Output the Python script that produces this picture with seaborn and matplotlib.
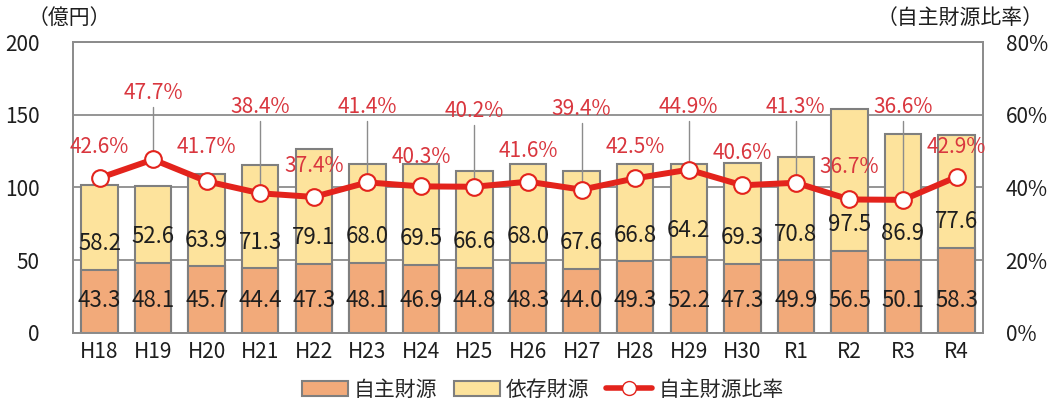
import numpy as np
import pandas as pd
import seaborn as sns
import matplotlib
matplotlib.use("Agg")
import matplotlib.pyplot as plt
from matplotlib.patches import Patch
from matplotlib.lines import Line2D

# データ
years = ['H18', 'H19', 'H20', 'H21', 'H22', 'H23', 'H24', 'H25', 'H26',
         'H27', 'H28', 'H29', 'H30', 'R1', 'R2', 'R3', 'R4']
jishu = [43.3, 48.1, 45.7, 44.4, 47.3, 48.1, 46.9, 44.8, 48.3,
         44.0, 49.3, 52.2, 47.3, 49.9, 56.5, 50.1, 58.3]
izon = [58.2, 52.6, 63.9, 71.3, 79.1, 68.0, 69.5, 66.6, 68.0,
        67.6, 66.8, 64.2, 69.3, 70.8, 97.5, 86.9, 77.6]
ratio = [42.6, 47.7, 41.7, 38.4, 37.4, 41.4, 40.3, 40.2, 41.6,
         39.4, 42.5, 44.9, 40.6, 41.3, 36.7, 36.6, 42.9]
# ラベルの高さ（%）
label_pos = [51.0, 66.0, 51.0, 62.0, 46.0, 62.0, 48.5, 61.0, 50.0,
             61.5, 51.0, 62.0, 49.5, 62.0, 45.7, 62.0, 51.0]

df = pd.DataFrame({'年度': years, '自主財源': jishu, '依存財源': izon, '比率': ratio})
df['合計'] = df['自主財源'] + df['依存財源']

sns.set_style("white")
plt.rcParams['font.family'] = ['Noto Sans CJK JP', 'DejaVu Sans']

orange = '#F2AA7A'
yellow = '#FDE39C'
edge = '#7F7F7F'
red = '#E3231C'
red_txt = '#D9363E'
txt = '#1E1E1E'

fig = plt.figure(figsize=(10.54, 4.08), dpi=100)
ax = fig.add_axes([0.069, 0.184, 0.864, 0.713])

sns.barplot(x='年度', y='合計', data=df, color=yellow, edgecolor=edge,
            linewidth=1.5, width=0.68, saturation=1, ax=ax, zorder=2)
sns.barplot(x='年度', y='自主財源', data=df, color=orange, edgecolor=edge,
            linewidth=1.5, width=0.68, saturation=1, ax=ax, zorder=3)

n = len(years)
ax.set_ylim(0, 200)
ax.set_xlim(-0.5, n - 0.5)
ax.set_yticks([0, 50, 100, 150, 200])
ax.yaxis.grid(True, color='#8C8C8C', linewidth=1.3, zorder=0)
ax.set_axisbelow(True)
ax.set_xlabel('')
ax.set_ylabel('')
ax.tick_params(axis='y', length=0, labelsize=15, pad=24, labelcolor=txt)
ax.tick_params(axis='x', which='major', length=0, labelsize=15, pad=6, labelcolor=txt)
ax.set_xticks(np.arange(-0.5, n), minor=True)
ax.tick_params(axis='x', which='minor', direction='in', length=5, color=edge)
for s in ax.spines.values():
    s.set_color('#8C8C8C')
    s.set_linewidth(1.3)

# 棒の数値
for i in range(n):
    ax.text(i, 22, f'{jishu[i]:.1f}', ha='center', va='center', fontsize=16,
            color=txt, zorder=5)
    ax.text(i, jishu[i] + 18, f'{izon[i]:.1f}', ha='center', va='center',
            fontsize=16, color=txt, zorder=5)

# 比率（右軸）
ax2 = ax.twinx()
sns.pointplot(x='年度', y='比率', data=df, color=red, markers='o',
              markersize=12, linewidth=4.3, markerfacecolor='white',
              markeredgecolor=red, markeredgewidth=1.5, ax=ax2, zorder=6)
ax2.set_ylim(0, 80)
ax2.set_xlim(-0.5, n - 0.5)
ax2.set_yticks([0, 20, 40, 60, 80])
ax2.set_yticklabels(['0%', '20%', '40%', '60%', '80%'])
ax2.set_ylabel('')
ax2.tick_params(axis='y', length=0, labelsize=15, pad=16, labelcolor=txt)
for s in ax2.spines.values():
    s.set_color('#8C8C8C')
    s.set_linewidth(1.3)

for i in range(n):
    ax2.text(i, label_pos[i], f'{ratio[i]:.1f}%', ha='center', va='center',
             fontsize=15, color=red_txt, zorder=7)
    if label_pos[i] > 58:
        ax2.plot([i, i], [ratio[i], label_pos[i] - 3.8], color='#8C8C8C',
                 linewidth=1, zorder=5)

fig.text(0.026, 0.955, '（億円）', fontsize=15, color=txt, va='center')
fig.text(0.99, 0.955, '（自主財源比率）', fontsize=15, color=txt,
         va='center', ha='right')

handles = [Patch(facecolor=orange, edgecolor=edge, linewidth=1.5),
           Patch(facecolor=yellow, edgecolor=edge, linewidth=1.5),
           Line2D([0], [0], color=red, linewidth=4, marker='o', markersize=10,
                  markerfacecolor='white', markeredgecolor=red)]
fig.legend(handles, ['自主財源', '依存財源', '自主財源比率'], loc='center',
           bbox_to_anchor=(0.515, 0.045), ncol=3, frameon=False, fontsize=15,
           handlelength=2.2, handleheight=0.7, columnspacing=0.8, handletextpad=0.3)

fig.savefig('out.png', dpi=100)
